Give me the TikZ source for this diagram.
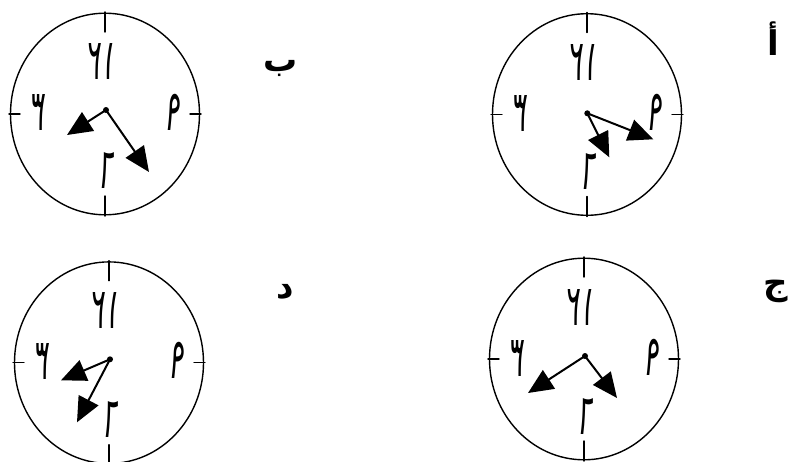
\documentclass[tikz,border=0pt]{standalone}
\usepackage{fontspec}
\usepackage{graphicx}
\usetikzlibrary{arrows.meta}
\newfontfamily\arabicfont[Script=Arabic]{DejaVu Sans}
\TeXXeTstate=1

\tikzset{
  face/.style={line width=1.4pt},
  numeral/.style={inner sep=0pt, font=\arabicfont\fontsize{27}{27}\selectfont},
  letter/.style={inner sep=0pt, font=\arabicfont\bfseries\fontsize{34}{34}\selectfont},
  hand/.style={line width=2pt, -{Triangle[length=25pt,width=22pt]}},
}
% mirrored (and stretched) clock numeral
\newcommand\mirr[1]{\scalebox{-1}[2.1]{#1}}

\begin{document}
\begin{tikzpicture}[x=1pt, y=-1pt, line cap=round, line join=round]
\useasboundingbox (0,0) rectangle (790,461);

% -----------------------
% Clock faces
% -----------------------
\def\rx{94.5pt}   % horizontal radius
\def\ry{100.8pt}  % vertical radius

\foreach \n/\x/\y in {A/587/114.5, B/105/114, C/584/359, D/109/362.7}{
  \coordinate (\n-c) at (\x,\y);
  \draw[face] (\n-c) ellipse [x radius=\rx, y radius=\ry];
  % ticks at 12, 3, 6, 9
  \draw[face] (\x,\y-102) -- (\x,\y-82);
  \draw[face] (\x,\y+102) -- (\x,\y+82);
  \draw[face] (\x-96,\y) -- (\x-85,\y);
  \draw[face] (\x+96,\y) -- (\x+85,\y);
  % numerals (mirrored face)
  \node[numeral] (\n-12) at (\x-3,\y-52)  {\mirr{١٢}};
  \node[numeral] (\n-3)  at (\x-66,\y-1)  {\mirr{٣}};
  \node[numeral] (\n-9)  at (\x+69,\y-2)  {\mirr{٩}};
  \node[numeral] (\n-6)  at (\x+3.5,\y+57) {\mirr{٦}};
}

% -----------------------
% Hands
% -----------------------
\foreach \n/\dx/\dy/\ax/\ay/\bx/\by in {
    A/587.3/113.3/22/44/66/26,
    B/106/110/-39/25/43/62,
    C/585/356/-57/37/32/42,
    D/110/359.3/-49/21/-33/63}{
  \coordinate (\n-o)  at (\dx,\dy);
  \coordinate (\n-h1) at ({\dx+(\ax)},{\dy+(\ay)});
  \coordinate (\n-h2) at ({\dx+(\bx)},{\dy+(\by)});
  \draw[hand] (\n-o) -- (\n-h1);
  \draw[hand] (\n-o) -- (\n-h2);
  \fill (\n-o) circle (3pt);
}

% -----------------------
% Choice labels
% -----------------------
\node[letter] (la) at (773,39)  {\beginR أ\endR};
\node[letter] (lb) at (281,68)  {\beginR ب\endR};
\node[letter] (lc) at (776,291) {\beginR ج\endR};
\node[letter] (ld) at (285,292) {\beginR د\endR};

\end{tikzpicture}
\end{document}
